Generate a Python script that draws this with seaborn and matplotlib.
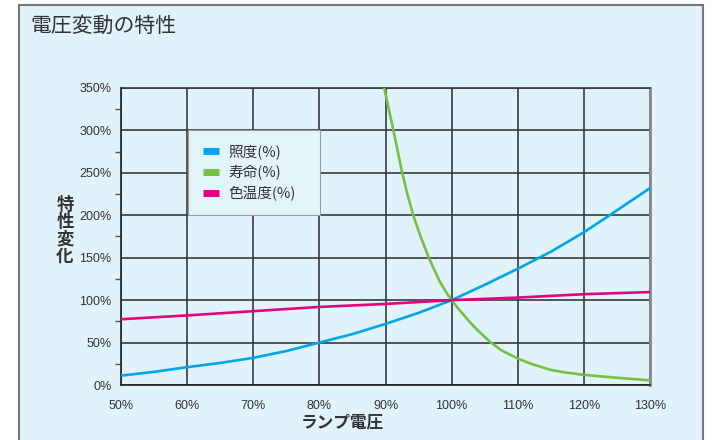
import pandas as pd
import seaborn as sns
import matplotlib.pyplot as plt
from matplotlib.lines import Line2D
from matplotlib.patches import Rectangle
from matplotlib.ticker import MultipleLocator, FuncFormatter

# --- データ (ランプ電圧 %, 特性変化 %) ---
lux_v = [50, 55, 60, 65, 70, 75, 80, 85, 90, 95, 100, 105, 110, 115, 120, 123.5, 130]
lux = [11, 15.5, 21, 26, 32, 40, 50, 60, 72, 85, 100, 118, 137, 157, 180, 198, 232]

life_v = [89.8, 90.5, 91.2, 92.5, 93.3, 94.2, 95.3, 96.6, 98.2, 99.2, 100, 101, 102, 103,
          104, 105.8, 107.5, 109.8, 112, 114.9, 117, 119.9, 125, 130]
life = [350, 325, 300, 251, 225, 200, 175, 149, 122, 109, 100, 90, 81, 72,
        64, 51, 41, 32, 25, 18, 15, 12, 8.5, 5.5]

ct_v = [50, 60, 70, 80, 90, 100, 110, 120, 130]
ct = [77.5, 82, 87, 92, 95.5, 100, 103, 107, 109.5]

labels = ["照度(%)", "寿命(%)", "色温度(%)"]
colors = ["#00a7e6", "#76c043", "#e5007f"]

df = pd.concat([
    pd.DataFrame({"v": lux_v, "val": lux, "s": labels[0]}),
    pd.DataFrame({"v": life_v, "val": life, "s": labels[1]}),
    pd.DataFrame({"v": ct_v, "val": ct, "s": labels[2]}),
], ignore_index=True)

sns.set_style("white")
plt.rcParams['font.family'] = ['Noto Sans CJK JP', 'DejaVu Sans']
bg = "#e0f2fa"
txt = "#333333"

fig = plt.figure(figsize=(7.22, 4.4), dpi=100)
fig.patch.set_facecolor("white")
# 外枠
fig.add_artist(Rectangle((19 / 722, -0.05), (703 - 19) / 722, 1.05 - 5 / 440,
                         transform=fig.transFigure, facecolor=bg,
                         edgecolor="#777777", lw=1.5, zorder=-10))

ax = fig.add_axes([121 / 722, 1 - 385 / 440, (650 - 121) / 722, (385 - 88) / 440])
ax.set_facecolor(bg)

sns.lineplot(data=df, x="v", y="val", hue="s", palette=colors, sort=False,
             estimator=None, lw=1.9, legend=False, ax=ax, zorder=3)

ax.set_xlim(50, 130)
ax.set_ylim(0, 350)
ax.xaxis.set_major_locator(MultipleLocator(10))
ax.yaxis.set_major_locator(MultipleLocator(50))
ax.yaxis.set_minor_locator(MultipleLocator(25))
pct = FuncFormatter(lambda v, p: f"{v:.0f}%")
ax.xaxis.set_major_formatter(pct)
ax.yaxis.set_major_formatter(pct)
ax.grid(True, which="major", color="#3a3a3a", lw=1.2, zorder=1)
ax.set_axisbelow(True)
ax.tick_params(axis="both", which="major", length=5, width=1, color="#555555",
               labelsize=9, labelcolor=txt, pad=2)
ax.tick_params(axis="y", which="minor", length=4, width=1, color="#555555", left=True)
ax.tick_params(axis="x", pad=6)
for lab in ax.get_xticklabels() + ax.get_yticklabels():
    lab.set_family(['Liberation Sans', 'DejaVu Sans'])
ax.set_xlabel("")
ax.set_ylabel("")
for s in ["left", "bottom"]:
    ax.spines[s].set_color("#222222")
    ax.spines[s].set_linewidth(1.2)
ax.spines["top"].set_color("#3a3a3a")
ax.spines["top"].set_linewidth(1.2)
ax.spines["right"].set_color("#888888")
ax.spines["right"].set_linewidth(2)

handles = [Line2D([], [], color=c, lw=5, solid_capstyle="butt") for c in colors]
leg = ax.legend(handles, labels, loc="upper left",
                bbox_to_anchor=((188 - 121) / 529, (385 - 215) / 297,
                                (320 - 188) / 529, (215 - 130) / 297),
                mode="expand", fontsize=10.5, frameon=True, fancybox=False, framealpha=1,
                borderpad=1.0, labelspacing=0.38, handlelength=1.15, handletextpad=0.6,
                borderaxespad=0)
leg.get_frame().set_facecolor("#e3f3fa")
leg.get_frame().set_edgecolor("#9a9a9a")
leg.get_frame().set_linewidth(0.8)
for t in leg.get_texts():
    t.set_color(txt)

fig.text(30 / 722, 1 - 26 / 440, "電圧変動の特性", fontsize=15, color=txt,
         ha="left", va="center")
fig.text(65 / 722, 1 - 231 / 440, "特\n性\n変\n化", fontsize=12.5, fontweight="bold",
         color=txt, ha="center", va="center", linespacing=0.95)
fig.text(342 / 722, 1 - 422 / 440, "ランプ電圧", fontsize=12, fontweight="bold",
         color=txt, ha="center", va="center")

fig.savefig("out.png", dpi=100, facecolor=fig.get_facecolor())
